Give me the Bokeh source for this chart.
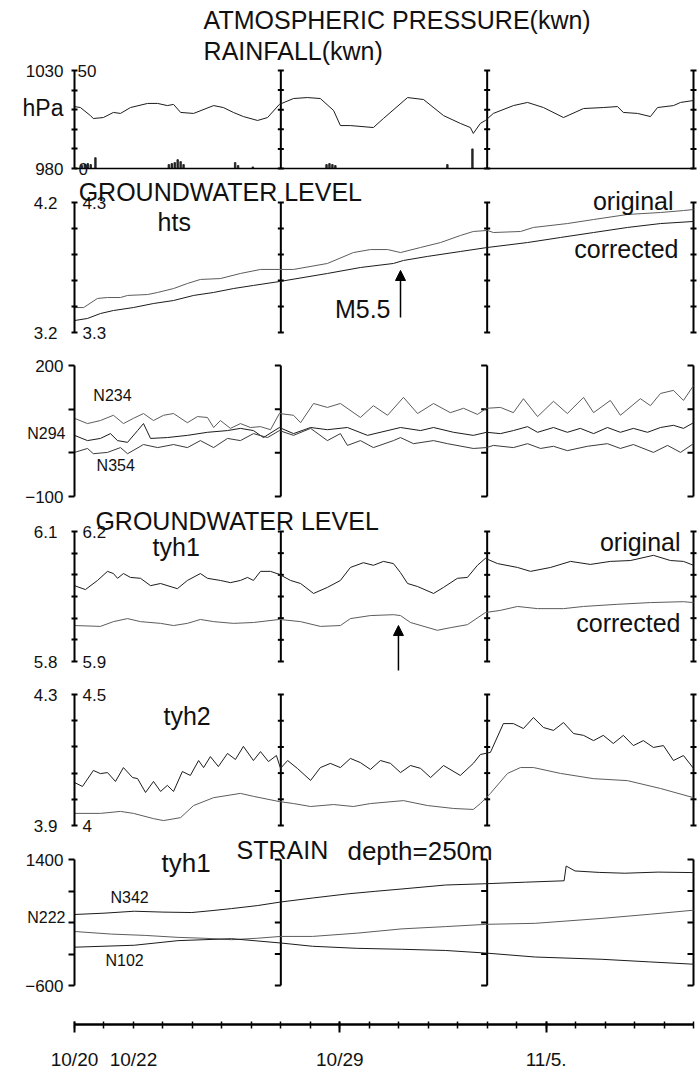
from bokeh.plotting import figure
from bokeh.models import Range1d, LinearAxis, FixedTicker, Label, Arrow, NormalHead, Grid
from bokeh.layouts import column
from bokeh.embed import file_html
from bokeh.resources import INLINE

# ---------------- data (days after 10/20 00:00) ----------------
pres_day = [0, 0.2, 0.54, 0.64, 0.98, 1.32, 1.56, 1.90, 2.48, 2.82, 3.15, 3.36, 3.60, 4.04, 4.72, 5.05,
            5.39, 5.73, 6.21, 6.55, 6.95, 7.43, 7.90, 8.34, 8.79, 9.02, 9.36, 10.14, 10.48, 11.30, 11.84,
            12.52, 13.09, 13.43, 13.53, 13.77, 13.94, 14.21, 14.89, 15.37, 15.91, 16.59, 17.27, 17.94,
            18.42, 18.62, 19.10, 19.54, 19.78, 20.32, 20.56, 21.0]
pres_hpa = [1011.6, 1011.1, 1007.0, 1005.5, 1006.0, 1008.6, 1008.1, 1011.1, 1013.2, 1013.2, 1012.1, 1012.7,
            1008.6, 1008.1, 1012.1, 1011.1, 1008.6, 1006.5, 1004.5, 1006.0, 1012.7, 1015.7, 1016.2, 1015.7,
            1009.6, 1001.9, 1001.9, 1000.9, 1005.5, 1016.2, 1015.2, 1007.0, 1003.0, 1000.9, 997.9, 1003.0,
            1004.5, 1008.1, 1012.1, 1013.7, 1011.1, 1006.0, 1010.6, 1011.1, 1011.6, 1008.6, 1008.1, 1006.5,
            1011.1, 1012.1, 1013.7, 1014.7]

rain_day = [0.25, 0.35, 0.45, 0.55, 0.71, 3.2, 3.3, 3.4, 3.5, 3.6, 3.7, 5.45, 5.55, 6.05,
            8.55, 8.65, 8.75, 8.85, 12.65, 13.5]
rain_mm = [1.5, 2.0, 2.5, 2.0, 5.5, 2.0, 2.5, 3.0, 4.5, 3.5, 2.0, 3.0, 1.5, 0.8,
           2.0, 2.5, 2.0, 1.5, 2.0, 10.0]

hts_day_o = [0, 0.31, 0.78, 1.12, 1.56, 1.80, 2.48, 2.82, 3.36, 3.83, 4.27, 4.95, 5.63, 6.31, 6.95, 7.43,
             8.58, 9.46, 10.04, 10.62, 11.06, 11.74, 12.42, 13.09, 13.53, 14.01, 14.21, 15.13, 15.57,
             16.72, 17.61, 18.76, 19.88, 20.66, 21.0]
hts_orig = [3.492, 3.492, 3.562, 3.569, 3.569, 3.585, 3.592, 3.608, 3.638, 3.677, 3.708, 3.715, 3.754,
            3.785, 3.785, 3.785, 3.831, 3.915, 3.938, 3.938, 3.915, 3.954, 3.992, 4.046, 4.077, 4.085,
            4.069, 4.077, 4.108, 4.138, 4.169, 4.208, 4.223, 4.238, 4.246]
hts_day_c = [0, 0.44, 0.88, 1.32, 2.00, 2.68, 3.36, 4.04, 4.72, 5.39, 6.07, 6.95, 8.58, 9.70, 10.82,
             11.16, 11.97, 13.09, 14.01, 15.37, 16.49, 17.61, 18.76, 19.88, 21.0]
hts_corr = [3.292, 3.308, 3.346, 3.369, 3.392, 3.423, 3.446, 3.485, 3.508, 3.538, 3.562, 3.592, 3.654,
            3.700, 3.731, 3.754, 3.785, 3.823, 3.854, 3.892, 3.931, 3.969, 4.008, 4.038, 4.054]

n234_day = [0, 0.44, 0.88, 1.32, 1.66, 2.00, 2.34, 2.68, 3.02, 3.36, 3.83, 4.17, 4.51, 4.72, 4.95, 5.29,
            5.63, 5.97, 6.31, 6.65, 6.95, 7.43, 7.67, 8.11, 8.58, 9.02, 9.70, 10.14, 10.62, 11.16, 11.64,
            12.18, 12.75, 13.20, 13.67, 13.98, 14.45, 14.89, 15.23, 15.71, 16.25, 16.72, 17.27, 17.61,
            18.18, 18.52, 19.20, 19.54, 19.88, 20.32, 20.66, 21.0]
n234 = [79, 67, 74, 86, 67, 79, 90, 74, 86, 90, 69, 83, 81, 58, 74, 56, 67, 58, 60, 53, 90, 86, 69, 113,
        104, 113, 81, 108, 86, 127, 90, 113, 92, 102, 88, 102, 104, 92, 124, 83, 118, 90, 127, 92, 120,
        86, 124, 108, 136, 143, 120, 154]
n294_day = [0, 0.44, 0.88, 1.22, 1.46, 1.80, 2.14, 2.34, 2.58, 3.15, 3.83, 4.51, 5.19, 5.63, 6.07, 6.41,
            6.95, 7.43, 8.01, 8.58, 9.26, 9.94, 11.06, 11.74, 12.18, 12.86, 13.53, 13.98, 14.45, 14.89,
            15.37, 15.71, 16.25, 16.72, 17.16, 17.61, 18.08, 18.52, 18.96, 19.44, 19.88, 20.32, 20.66, 21.0]
n294 = [40, 28, 33, 44, 28, 24, 51, 67, 33, 35, 40, 47, 51, 56, 51, 35, 58, 44, 58, 53, 58, 40, 58, 51,
        58, 47, 40, 47, 44, 51, 60, 47, 58, 47, 56, 44, 58, 47, 56, 47, 58, 63, 56, 69]
n354_day = [0, 0.44, 0.64, 1.12, 1.56, 1.80, 2.34, 2.82, 3.36, 3.83, 4.27, 4.72, 5.19, 5.63, 6.07, 6.55,
            6.95, 7.43, 8.01, 8.58, 9.02, 9.26, 9.70, 10.14, 10.82, 11.06, 11.50, 12.18, 12.65, 13.53,
            13.98, 14.21, 14.89, 15.37, 15.81, 16.25, 16.72, 17.40, 18.08, 18.52, 18.96, 19.64, 20.12,
            20.56, 21.0]
n354 = [1, 10, -2, 1, 12, -2, 19, 12, 19, 12, 28, 12, 33, 28, 44, 35, 51, 40, 56, 28, 44, 17, 28, 12, 28,
        35, 21, 28, 21, 10, 12, 17, 12, 21, 10, 15, 5, 15, 21, 10, 19, 1, 17, 1, 21]

t1o_day = [0, 0.37, 0.78, 1.12, 1.32, 1.46, 1.66, 1.90, 2.24, 2.58, 2.92, 3.49, 3.83, 4.27, 4.51, 4.95,
           5.29, 5.63, 5.87, 6.07, 6.31, 6.65, 6.95, 7.33, 7.67, 8.11, 8.58, 9.02, 9.36, 9.80, 10.14,
           10.48, 10.82, 11.06, 11.30, 11.64, 12.18, 12.52, 12.99, 13.33, 13.67, 13.94, 14.35, 15.03,
           15.47, 16.15, 16.83, 17.50, 18.18, 18.86, 19.64, 20.22, 20.66, 21.0]
t1o = [6.075, 6.066, 6.087, 6.108, 6.103, 6.092, 6.103, 6.094, 6.092, 6.075, 6.080, 6.068, 6.087, 6.103,
       6.092, 6.087, 6.082, 6.087, 6.094, 6.087, 6.108, 6.108, 6.101, 6.087, 6.080, 6.057, 6.071, 6.087,
       6.117, 6.128, 6.122, 6.131, 6.126, 6.105, 6.080, 6.073, 6.057, 6.071, 6.092, 6.094, 6.122, 6.138,
       6.126, 6.117, 6.108, 6.117, 6.131, 6.124, 6.131, 6.133, 6.145, 6.133, 6.131, 6.122]
t1c_day = [0, 0.88, 1.32, 1.80, 2.24, 2.92, 3.36, 3.83, 4.27, 4.72, 5.39, 6.07, 6.95, 7.67, 8.34, 9.02,
           9.36, 10.04, 10.82, 11.06, 11.40, 12.31, 12.75, 13.33, 13.94, 14.45, 15.03, 15.71, 16.59,
           17.27, 18.42, 19.54, 20.66, 21.0]
t1c = [5.883, 5.881, 5.892, 5.899, 5.892, 5.888, 5.883, 5.888, 5.897, 5.892, 5.888, 5.890, 5.897, 5.892,
       5.881, 5.883, 5.899, 5.906, 5.908, 5.906, 5.890, 5.872, 5.878, 5.885, 5.913, 5.918, 5.927, 5.922,
       5.922, 5.927, 5.932, 5.936, 5.938, 5.936]

t2o_day = [0, 0.27, 0.64, 0.88, 1.12, 1.39, 1.66, 1.97, 2.14, 2.41, 2.68, 2.92, 3.15, 3.36, 3.66, 3.93,
           4.21, 4.38, 4.61, 4.88, 5.19, 5.46, 5.73, 6.07, 6.31, 6.58, 6.85, 6.99, 7.23, 7.56, 8.01, 8.34,
           8.68, 9.02, 9.36, 9.70, 10.04, 10.38, 10.72, 11.06, 11.40, 11.74, 12.08, 12.52, 13.09, 13.53,
           13.77, 14.11, 14.55, 14.89, 15.23, 15.57, 15.91, 16.25, 16.59, 16.93, 17.27, 17.61, 17.94,
           18.28, 18.62, 18.96, 19.30, 19.64, 19.98, 20.32, 20.66, 21.0]
t2o = [4.164, 4.149, 4.210, 4.198, 4.202, 4.168, 4.221, 4.183, 4.179, 4.126, 4.168, 4.130, 4.153, 4.130,
       4.206, 4.191, 4.248, 4.221, 4.263, 4.225, 4.275, 4.252, 4.302, 4.248, 4.282, 4.244, 4.267, 4.218,
       4.248, 4.218, 4.172, 4.221, 4.237, 4.221, 4.256, 4.240, 4.214, 4.248, 4.237, 4.202, 4.229, 4.218,
       4.183, 4.229, 4.191, 4.237, 4.271, 4.279, 4.389, 4.389, 4.370, 4.412, 4.374, 4.363, 4.393, 4.351,
       4.344, 4.324, 4.344, 4.313, 4.344, 4.305, 4.324, 4.298, 4.305, 4.248, 4.267, 4.218]
t2c_day = [0, 0.88, 1.56, 2.00, 2.68, 3.02, 3.60, 4.04, 4.72, 5.63, 6.07, 6.95, 7.43, 8.01, 8.79, 9.46,
           10.04, 11.16, 11.97, 12.86, 13.53, 13.77, 14.11, 14.69, 15.13, 15.57, 16.49, 17.61, 18.76,
           19.88, 21.0]
t2c = [3.937, 3.937, 3.943, 3.937, 3.921, 3.915, 3.924, 3.961, 3.985, 3.998, 3.989, 3.973, 3.967, 3.958,
       3.964, 3.958, 3.967, 3.976, 3.961, 3.952, 3.949, 3.967, 3.998, 4.059, 4.077, 4.077, 4.059, 4.043,
       4.037, 4.013, 3.985]

n342_day = [0, 1.0, 2.03, 3.0, 3.98, 4.7, 5.33, 6.2, 6.99, 8.1, 9.28, 10.2, 11.11, 12.59, 13.98, 15.3,
            16.61, 16.68, 16.98, 17.8, 18.67, 19.8, 21.0]
n342 = [527, 548, 579, 565, 558, 590, 621, 668, 725, 790, 855, 895, 932, 995, 1016, 1040, 1062, 1296,
        1218, 1195, 1182, 1200, 1192]
n222_day = [0, 1.25, 2.4, 3.51, 4.4, 5.33, 6.2, 6.99, 8.07, 9.59, 11.11, 12.59, 13.98, 15.63, 17.89,
            19.5, 21.0]
n222 = [257, 216, 195, 164, 150, 127, 150, 179, 179, 231, 299, 335, 371, 387, 465, 530, 595]
n102_day = [0, 2.03, 3.51, 5.33, 6.99, 8.07, 9.59, 11.1, 12.59, 13.98, 15.63, 17.89, 19.5, 21.0]
n102 = [8, 39, 112, 143, 75, 23, -10, -25, -44, -86, -148, -184, -225, -262]

day_ticks = list(range(22))
date_ticks = [0, 9, 16]
date_labels = {0: "10/20", 9: "10/29", 16: "11/5."}
scale_days = [7, 14, 21]

# ---------------- layout / style ----------------
FONT = "Liberation Sans"
W = 700
AX0 = 74            # pixel column of day 0
PXD = 619 / 21      # pixels per day
X_RANGE = (-AX0 / PXD, (W - AX0) / PXD)
DARK = "#1c1c1c"
GREY = "#5c5c5c"
TXT = "#111111"
TICK_FS = "17px"


def yrange(lo, hi, row_hi, row_lo, height):
    d = (hi - lo) / (row_lo - row_hi)
    return Range1d(lo - (height - row_lo) * d, hi + row_hi * d)


def base_fig(height, yr):
    p = figure(width=W, height=height, x_range=Range1d(*X_RANGE), y_range=yr,
               x_axis_location=None, y_axis_location=None, output_backend="svg",
               toolbar_location=None, min_border=0)
    p.outline_line_color = None
    p.background_fill_color = "white"
    p.border_fill_color = "white"
    for g in p.select(type=Grid):
        g.visible = False
    return p


def panel(height, row_hi, row_lo, lo, hi, mids, cross, standoff):
    p = base_fig(height, yrange(lo, hi, row_hi, row_lo, height))
    tin, tout = (3, 3) if cross else (0, 6)
    ax = LinearAxis(ticker=FixedTicker(ticks=[lo, hi], minor_ticks=mids), bounds=(lo, hi),
                    fixed_location=0)
    ax.major_tick_in = tin
    ax.major_tick_out = tout
    ax.minor_tick_in = tin
    ax.minor_tick_out = tout
    ax.axis_line_width = 2
    ax.major_tick_line_width = 2
    ax.minor_tick_line_width = 2
    ax.major_label_standoff = standoff
    ax.major_label_text_font = FONT
    ax.major_label_text_font_size = TICK_FS
    ax.major_label_text_color = TXT
    p.add_layout(ax, "left")
    n = len(scale_days)
    p.segment(x0=scale_days, y0=[lo] * n, x1=scale_days, y1=[hi] * n, line_width=2, line_color="black")
    allt = [lo] + list(mids) + [hi]
    x0, x1, yy = [], [], []
    for xd in scale_days:
        for t in allt:
            x0.append(xd - tout / PXD)
            x1.append(xd + tin / PXD)
            yy.append(t)
    p.segment(x0=x0, y0=yy, x1=x1, y1=yy, line_width=2, line_color="black")
    return p


def text(p, s, x, y, size="25px", align="left", xo=0, yo=0, baseline="middle"):
    p.add_layout(Label(x=x, y=y, text=s, x_offset=xo, y_offset=yo, text_font=FONT,
                       text_font_size=size, text_align=align, text_baseline=baseline,
                       text_color=TXT))


def arrow(p, x, y0, y1):
    p.add_layout(Arrow(end=NormalHead(size=10, fill_color="black", line_color="black"),
                       x_start=x, y_start=y0, x_end=x, y_end=y1, line_width=1.5,
                       line_color="black"))


# ---- panel 1: pressure & rainfall   (figure rows 0..178)
f1 = panel(178, 70, 168, 980, 1030, [990, 1000, 1010, 1020], True, 8)
f1.extra_y_ranges = {"rain": yrange(0, 50, 70, 168, 178)}
f1.vbar(x=rain_day, top=rain_mm, bottom=0, width=0.05, y_range_name="rain",
        fill_color="#333333", line_color="#111111", line_width=0.8)
f1.segment(x0=[0], y0=[980], x1=[21], y1=[980], line_width=1.5, line_color="black")
f1.line(pres_day, pres_hpa, line_width=1, line_color=DARK)
text(f1, "ATMOSPHERIC PRESSURE(kwn)", 4.38, 1056.0)
text(f1, "RAINFALL(kwn)", 4.38, 1039.7)
text(f1, "hPa", 0, 1011.1, size="23px", align="right", xo=-11)
text(f1, "50", 0, 1030, size=TICK_FS, xo=3)
text(f1, "0", 0, 980, size=TICK_FS, xo=4)

# ---- panel 2: hts groundwater   (figure rows 178..348)
f2 = panel(170, 24, 154, 3.2, 4.2, [3.4, 3.6, 3.8, 4.0], True, 14)
f2.extra_y_ranges = {"orig": yrange(3.3, 4.3, 24, 154, 170)}
f2.line(hts_day_o, hts_orig, line_width=1, line_color=GREY, y_range_name="orig")
f2.line(hts_day_c, hts_corr, line_width=1, line_color=DARK)
text(f2, "GROUNDWATER LEVEL", 0.14, 4.277)
text(f2, "hts", 2.82, 4.05)
text(f2, "original", 21, 4.208, align="right", xo=-20)
text(f2, "corrected", 21, 3.846, align="right", xo=-15)
text(f2, "M5.5", 11.06, 3.377, align="right", xo=-10)
text(f2, "4.3", 0, 4.2, size=TICK_FS, xo=8)
text(f2, "3.3", 0, 3.2, size=TICK_FS, xo=8)
arrow(f2, 11.06, 3.315, 3.677)

# ---- panel 3: three components   (figure rows 348..506)
f3 = panel(158, 17, 148, -100, 200, [0, 100], False, 5)
f3.line(n234_day, n234, line_width=1, line_color=GREY)
f3.line(n294_day, n294, line_width=1, line_color=DARK)
f3.line(n354_day, n354, line_width=1, line_color="#3a3a3a")
text(f3, "N234", 0.64, 131, size="16px")
text(f3, "N294", 0, 44, size="16px", align="right", xo=-9)
text(f3, "N354", 0.75, -29, size="16px")

# ---- panel 4: tyh1 groundwater   (figure rows 506..678)
f4 = panel(172, 25, 155, 5.8, 6.1, [5.85, 5.9, 5.95, 6.0, 6.05], True, 14)
f4.extra_y_ranges = {"orig": yrange(5.9, 6.2, 25, 155, 172)}
f4.line(t1o_day, t1o, line_width=1, line_color=DARK, y_range_name="orig")
f4.line(t1c_day, t1c, line_width=1, line_color=GREY)
text(f4, "GROUNDWATER LEVEL", 0.71, 6.124)
text(f4, "tyh1", 2.65, 6.065)
text(f4, "original", 21, 6.075, align="right", xo=-13)
text(f4, "corrected", 21, 5.888, align="right", xo=-13)
text(f4, "6.2", 0, 6.1, size=TICK_FS, xo=8)
text(f4, "5.9", 0, 5.8, size=TICK_FS, xo=8)
arrow(f4, 10.99, 5.779, 5.883)

# ---- panel 5: tyh2 groundwater   (figure rows 678..835)
f5 = panel(157, 16, 147, 3.9, 4.3, [3.98, 4.06, 4.14, 4.22], True, 14)
f5.extra_y_ranges = {"orig": yrange(4.0, 4.5, 16, 147, 157)}
f5.line(t2o_day, t2o, line_width=1, line_color=DARK, y_range_name="orig")
f5.line(t2c_day, t2c, line_width=1, line_color=GREY)
text(f5, "tyh2", 3.02, 4.233)
text(f5, "4.5", 0, 4.3, size=TICK_FS, xo=8)
text(f5, "4", 0, 3.9, size=TICK_FS, xo=8)

# ---- panel 6: strain   (figure rows 835..1000)
f6 = panel(165, 24, 150, -600, 1400, [-100, 400, 900], False, 5)
f6.line(n342_day, n342, line_width=1, line_color=DARK)
f6.line(n222_day, n222, line_width=1, line_color=GREY)
f6.line(n102_day, n102, line_width=1, line_color=DARK)
text(f6, "STRAIN", 5.5, 1551)
text(f6, "depth=250m", 9.26, 1535, size="26px")
text(f6, "tyh1", 2.95, 1337, size="26px")
text(f6, "N342", 1.22, 800, size="16px")
text(f6, "N222", 0, 480, size="16px", align="right", xo=-9)
text(f6, "N102", 1.05, -205, size="16px")

# ---- time axis   (figure rows 1000..1074, axis at row 24)
f7 = base_fig(74, Range1d(-50, 24))
tax = LinearAxis(ticker=FixedTicker(ticks=date_ticks, minor_ticks=day_ticks), bounds=(0, 21),
                 major_label_overrides=date_labels, fixed_location=0)
tax.axis_line_width = 2.5
tax.major_tick_line_width = 2
tax.minor_tick_line_width = 1.5
tax.major_tick_out = 8
tax.major_tick_in = 3
tax.minor_tick_out = 4
tax.minor_tick_in = 3
tax.major_label_standoff = 16
tax.major_label_text_font = FONT
tax.major_label_text_font_size = "19px"
tax.major_label_text_color = TXT
f7.add_layout(tax, "below")
text(f7, "10/22", 2, 0, size="19px", align="center", yo=-24, baseline="top")

layout = column(f1, f2, f3, f4, f5, f6, f7, spacing=0)
open("out.html", "w").write(file_html(layout, INLINE))
